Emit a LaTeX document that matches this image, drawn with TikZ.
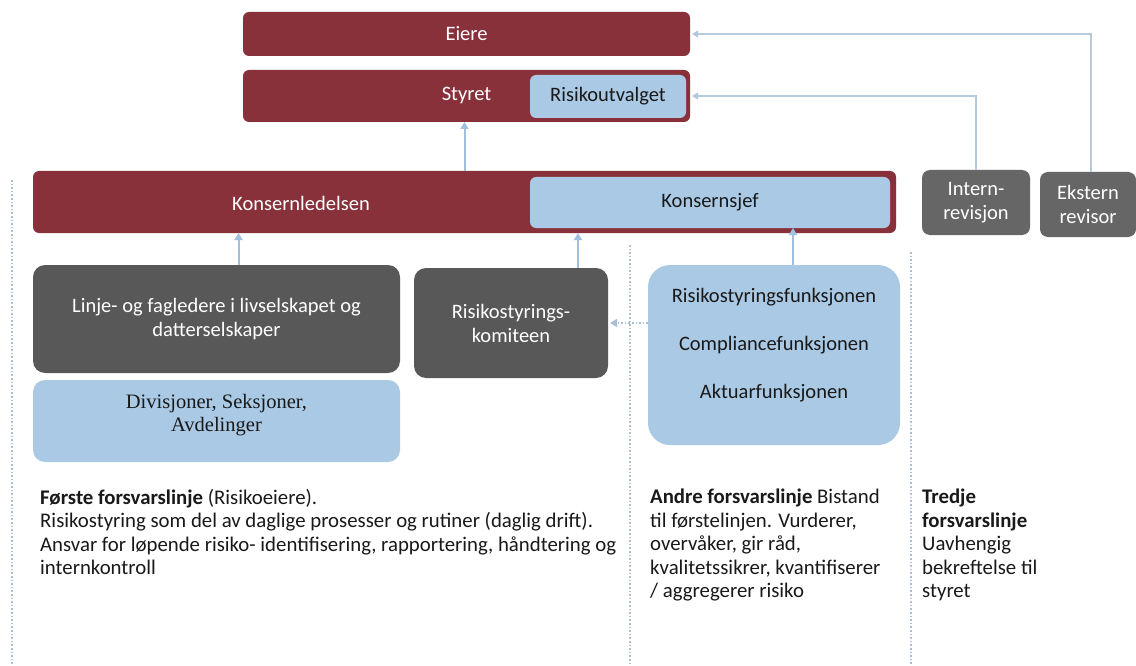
\documentclass[tikz,border=0pt]{standalone}
\usepackage{fontspec}
\setmainfont{Carlito}
\newfontfamily\serifff{Liberation Serif}
\usetikzlibrary{arrows.meta}
\definecolor{dred}{RGB}{136,49,58}
\definecolor{lblue}{RGB}{170,201,228}
\definecolor{dgray}{RGB}{88,88,88}
\definecolor{mgray}{RGB}{102,102,102}
\definecolor{arrowc}{RGB}{160,192,222}
\definecolor{linec}{RGB}{182,202,222}
\definecolor{dotc}{RGB}{170,190,212}
\definecolor{txt}{RGB}{25,25,25}
\begin{document}
\begin{tikzpicture}[x=1pt,y=-1pt,
  box/.style={anchor=north west,inner sep=0pt,outer sep=0pt,rounded corners=6pt,align=center},
  redbox/.style={box,fill=dred,text=white,font=\fontsize{20.5}{24}\selectfont},
  bluebox/.style={box,fill=lblue,text=txt,font=\fontsize{20.5}{24}\selectfont},
  graybox/.style={box,fill=dgray,text=white,font=\fontsize{20.5}{24}\selectfont,rounded corners=12pt},
  revbox/.style={box,fill=mgray,text=white,font=\fontsize{20.5}{24}\selectfont,rounded corners=8pt},
  intext/.style={inner sep=0pt,align=center,font=\fontsize{20.5}{24}\selectfont},
  arr/.style={draw=arrowc,line width=2pt,-{Triangle[width=8pt,length=7pt]}},
  arrthin/.style={draw=linec,line width=1.3pt,-{Triangle[width=7pt,length=6pt,fill=arrowc]}},
  dotarr/.style={draw=dotc,line width=1.6pt,dotted,-{Triangle[width=8pt,length=7pt,fill=arrowc]}},
  sep/.style={draw=dotc,line width=1.6pt,dotted},
  body/.style={anchor=north west,inner sep=0pt,align=left,text=txt,font=\fontsize{20.8}{23.5}\selectfont}]
\useasboundingbox (0,0) rectangle (1136,666);
\fill[white] (0,0) rectangle (1136,666);

% top boxes
\node[redbox,minimum width=447pt,minimum height=44pt] (eiere) at (243,12) {Eiere};
\node[redbox,minimum width=447pt,minimum height=52pt] (styret) at (243,70) {Styret};
\node[bluebox,minimum width=156pt,minimum height=43pt] (utvalg) at (530,75) {Risikoutvalget};

% management
\node[redbox,minimum width=863pt,minimum height=62pt] (konsern) at (33,171) {};
\node[intext,text=white] (konsernt) at (301,203) {Konsernledelsen};
\node[bluebox,minimum width=360pt,minimum height=51pt] (sjef) at (530,177) {Konsernsjef};

% auditors
\node[revbox,minimum width=108pt,minimum height=65pt] (intern) at (922,170) {Intern-\\revisjon};
\node[revbox,minimum width=96pt,minimum height=65pt] (ekstern) at (1040,172) {Ekstern\\revisor};

% first line
\node[graybox,minimum width=367pt,minimum height=108pt] (linje) at (33,265) {Linje- og fagledere i livselskapet og\\datterselskaper};
\node[bluebox,minimum width=367pt,minimum height=82pt,rounded corners=12pt,font=\serifff\fontsize{20.5}{23}\selectfont] (divisjon) at (33,380) {Divisjoner, Seksjoner,\\Avdelinger\\[-6pt]};

% committee
\node[graybox,minimum width=194pt,minimum height=110pt] (komite) at (414,268) {Risikostyrings-\\komiteen};

% control functions
\node[bluebox,minimum width=252pt,minimum height=180pt,rounded corners=22pt] (funk) at (648,265) {};
\node[intext,text=txt,font=\fontsize{20.5}{48}\selectfont] (funkt) at (774,345) {Risikostyringsfunksjonen\\Compliancefunksjonen\\Aktuarfunksjonen};

% separators
\draw[sep] (12,180) -- (12,666);
\draw[sep] (630,245) -- (630,666);
\draw[sep] (911,252) -- (911,666);

% arrows
\draw[arr] (konsern.north) -- (konsern.north |- styret.south);
\draw[arr] ([xshift=22pt]linje.north) -- ([xshift=22pt]linje.north |- konsern.south);
\draw[arr] ([xshift=67pt]komite.north) -- ([xshift=67pt]komite.north |- konsern.south);
\draw[arr] ([xshift=19pt]funk.north) -- ([xshift=19pt]funk.north |- sjef.south);
\draw[dotarr] (funk.west |- komite.east) -- ([xshift=2pt]komite.east);
\draw[arrthin] (intern.north) |- ([xshift=2pt]styret.east);
\draw[arrthin] ([xshift=3pt]ekstern.north) |- ([xshift=2pt]eiere.east);

% texts
\node[body] (t1) at (40,489) {\textbf{Første forsvarslinje} (Risikoeiere).\\Risikostyring som del av daglige prosesser og rutiner (daglig drift).\\Ansvar for løpende risiko- identifisering, rapportering, håndtering og\\internkontroll};
\node[body] (t2) at (650,489) {\textbf{Andre forsvarslinje} Bistand\\til førstelinjen. Vurderer,\\overvåker, gir råd,\\kvalitetssikrer, kvantifiserer\\/ aggregerer risiko};
\node[body] (t3) at (922,489) {\textbf{Tredje}\\\textbf{forsvarslinje}\\Uavhengig\\bekreftelse til\\styret};
\end{tikzpicture}
\end{document}
